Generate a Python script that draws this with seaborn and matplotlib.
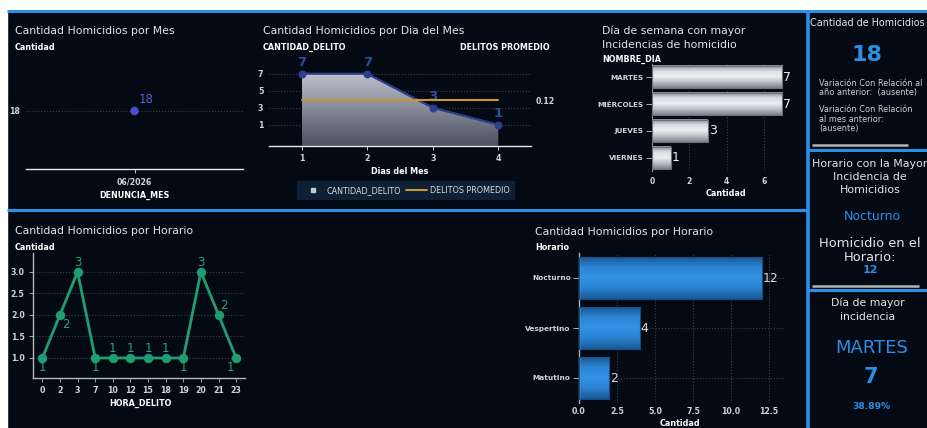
import numpy as np
import matplotlib
matplotlib.use("Agg")
import matplotlib.pyplot as plt
import seaborn as sns
from matplotlib.colors import LinearSegmentedColormap
from matplotlib.lines import Line2D
from matplotlib.patches import Rectangle

# -------------------- datos --------------------
meses = ["06/2026"]
cantidad_mes = [18]

dias_mes = [1, 2, 3, 4]
cantidad_dia = [7, 7, 3, 1]
delitos_promedio = 0.12

dias_semana = ["MARTES", "MIÉRCOLES", "JUEVES", "VIERNES"]
cantidad_semana = [7, 7, 3, 1]

horas = ["0", "2", "3", "7", "10", "12", "15", "18", "19", "20", "21", "23"]
cantidad_hora = [1, 2, 3, 1, 1, 1, 1, 1, 1, 3, 2, 1]

horarios = ["Nocturno", "Vespertino", "Matutino"]
cantidad_horario = [12, 4, 2]

total_homicidios = 18
horario_mayor = "Nocturno"
homicidios_horario = 12
dia_mayor = "MARTES"
homicidios_dia = 7
porcentaje_dia = 38.89

# -------------------- estilo --------------------
BG = "#040a13"
BLUE = "#2a8fe6"
TXT = "#e4e4e4"
TICK = "#d2d2d2"
GRID = "#3c424c"

sns.set_theme(style="dark", rc={"axes.facecolor": "none", "figure.facecolor": BG})
plt.rcParams["font.family"] = ["DejaVu Sans"]

W, H = 927, 428
fig = plt.figure(figsize=(W / 100, H / 100), dpi=100, facecolor=BG)


def pbox(x0, y0, x1, y1):
    return [x0 / W, 1 - y1 / H, (x1 - x0) / W, (y1 - y0) / H]


def ftext(x, y, s, **kw):
    kw.setdefault("va", "center")
    kw.setdefault("color", TXT)
    fig.text(x / W, 1 - y / H, s, **kw)


def fline(x0, y0, x1, y1, color=BLUE, lw=2.2):
    fig.add_artist(Line2D([x0 / W, x1 / W], [1 - y0 / H, 1 - y1 / H],
                          transform=fig.transFigure, color=color, lw=lw,
                          solid_capstyle="butt"))


def base_axes(ax):
    ax.set_facecolor("none")
    for s in ax.spines.values():
        s.set_visible(False)
    ax.set_xlabel("")
    ax.set_ylabel("")


def gradient_bars(ax, colors, edge):
    cmap = LinearSegmentedColormap.from_list("g", colors)
    grad = np.linspace(0, 1, 256).reshape(-1, 1)
    xl, yl = ax.get_xlim(), ax.get_ylim()
    for p in ax.patches:
        x0, y0, w, h = p.get_x(), p.get_y(), p.get_width(), p.get_height()
        ax.imshow(grad, extent=[x0, x0 + w, y0 + h, y0], aspect="auto",
                  cmap=cmap, zorder=2, interpolation="bicubic")
        p.set_facecolor("none")
        p.set_edgecolor(edge)
        p.set_linewidth(0.8)
        p.set_zorder(3)
    ax.set_xlim(xl)
    ax.set_ylim(yl)


# -------------------- marcos --------------------
fig.add_artist(Rectangle((0, 1 - 9.5 / H), 1, 9.5 / H, transform=fig.transFigure,
                         color="white", zorder=0))
fig.add_artist(Rectangle((0, 0), 7 / W, 1, transform=fig.transFigure,
                         color="white", zorder=0))
fline(7, 11, 927, 11)
fline(7, 210, 808, 210)
fline(807.5, 10, 807.5, 428, lw=2.6)
fline(808, 150, 927, 150)
fline(808, 290, 927, 290)

# -------------------- 1. por mes --------------------
ax1 = fig.add_axes(pbox(26, 53, 243, 169))
sns.scatterplot(x=meses, y=cantidad_mes, ax=ax1, color="#4a4ec8", s=38,
                edgecolor="none", zorder=3)
base_axes(ax1)
ax1.set_xlim(-0.5, 0.5)
ax1.set_ylim(17, 19)
ax1.set_yticks([18])
ax1.axhline(18, ls=":", color=GRID, lw=0.8, zorder=1)
ax1.spines["bottom"].set_visible(True)
ax1.spines["bottom"].set_color("#e8e8e8")
ax1.spines["bottom"].set_linewidth(1)
ax1.tick_params(axis="y", length=0, pad=4, labelsize=5.7, labelcolor=TICK)
ax1.tick_params(axis="x", length=3, width=0.6, color="#e8e8e8", pad=3,
                labelsize=5.7, labelcolor=TICK, bottom=True)
for lab in ax1.get_xticklabels() + ax1.get_yticklabels():
    lab.set_fontweight("bold")
for i, v in enumerate(cantidad_mes):
    ax1.annotate(str(v), (i, v), xytext=(3, 8), textcoords="offset points",
                 color="#5a5fd6", fontsize=8.5, ha="left", va="center")
ftext(15, 31, "Cantidad Homicidios por Mes", fontsize=7.8)
ftext(15, 47, "Cantidad", fontsize=5.8, fontweight="bold", color="white")
ftext(134, 195, "DENUNCIA_MES", fontsize=5.8, fontweight="bold", color="white",
      ha="center")

# -------------------- 2. por dia del mes --------------------
ax2 = fig.add_axes(pbox(269, 61, 531, 146))
base_axes(ax2)
ymin2 = -1.5
poly = ax2.fill_between(dias_mes, cantidad_dia, ymin2, color="none")
cmap_area = LinearSegmentedColormap.from_list("area", ["#4a5061", "#bfc2cc"])
grad = np.linspace(0, 1, 256).reshape(-1, 1)
im = ax2.imshow(grad, extent=[dias_mes[0], dias_mes[-1], ymin2, max(cantidad_dia)],
                origin="lower", aspect="auto", cmap=cmap_area, zorder=1)
im.set_clip_path(poly.get_paths()[0], ax2.transData)
sns.lineplot(x=dias_mes, y=cantidad_dia, ax=ax2, color="#2d3f8f", lw=1.6,
             marker="o", markersize=5, markeredgecolor="#2d3f8f", zorder=4)
base_axes(ax2)
ax2.set_xlim(0.5, 4.5)
ax2.set_ylim(ymin2, 8.5)
ax2.set_xticks(dias_mes)
ax2.set_yticks([1, 3, 5, 7])
ax2.grid(axis="y", ls=":", color=GRID, lw=0.8)
ax2.grid(axis="x", visible=False)
ax2.spines["bottom"].set_visible(True)
ax2.spines["bottom"].set_color("#e8e8e8")
ax2.spines["bottom"].set_linewidth(1)
ax2.tick_params(axis="y", length=0, pad=4, labelsize=5.7, labelcolor=TICK)
ax2.tick_params(axis="x", length=3, width=0.6, color="#e8e8e8", pad=3,
                labelsize=5.7, labelcolor=TICK, bottom=True)
for lab in ax2.get_xticklabels() + ax2.get_yticklabels():
    lab.set_fontweight("bold")
for x, v in zip(dias_mes, cantidad_dia):
    ax2.annotate(str(v), (x, v), xytext=(0, 8), textcoords="offset points",
                 color="#2d4c9e", fontsize=9.5, fontweight="bold",
                 ha="center", va="center", zorder=6)

ax2b = ax2.twinx()
sns.lineplot(x=dias_mes, y=[delitos_promedio] * len(dias_mes), ax=ax2b,
             color="#c9962c", lw=1.5, zorder=5)
base_axes(ax2b)
ax2b.set_ylim(delitos_promedio - 0.541 * 0.2, delitos_promedio + 0.459 * 0.2)
ax2b.set_yticks([delitos_promedio])
ax2b.set_yticklabels([f"{delitos_promedio:.2f}"])
ax2b.tick_params(axis="y", length=0, pad=3, labelsize=5.7, labelcolor=TICK,
                 right=True, labelright=True)
for lab in ax2b.get_yticklabels():
    lab.set_fontweight("bold")
ax2b.grid(False)

ftext(263, 31, "Cantidad Homicidios por Dia del Mes", fontsize=7.8)
ftext(263, 47, "CANTIDAD_DELITO", fontsize=5.8, fontweight="bold", color="white")
ftext(550, 47, "DELITOS PROMEDIO", fontsize=5.8, fontweight="bold", color="white",
      ha="right")
ftext(400, 172, "Dias del Mes", fontsize=5.8, fontweight="bold", color="white",
      ha="center")
handles = [Line2D([], [], marker="s", ls="none", color="#c4c7cf", markersize=3.5),
           Line2D([], [], color="#c9962c", lw=1.5)]
fig.legend(handles, ["CANTIDAD_DELITO", "DELITOS PROMEDIO"], loc="center",
           bbox_to_anchor=(406 / W, 1 - 190.5 / H), ncol=2, frameon=True,
           facecolor="#0d2035", edgecolor="none", framealpha=1, fancybox=False,
           fontsize=5.8, labelcolor="#d8d8d8", handlelength=2.6,
           columnspacing=0.6, borderpad=0.6, handletextpad=0.4,
           borderaxespad=0)

# -------------------- 3. dia de semana --------------------
ax3 = fig.add_axes(pbox(652, 64, 788, 171))
sns.barplot(x=cantidad_semana, y=dias_semana, ax=ax3, orient="y", width=0.83,
            color="#c0c0c0")
base_axes(ax3)
ax3.set_xlim(0, 7.3)
ax3.set_ylim(len(dias_semana) - 0.5, -0.5)
ax3.set_axisbelow(True)
gradient_bars(ax3, ["#80848e", "#d9dbe0", "#eceef2", "#b9bcc4", "#7c8089"],
              "#6d717a")
ax3.set_xticks([0, 2, 4, 6])
ax3.grid(axis="x", ls=":", color=GRID, lw=0.8)
ax3.grid(axis="y", visible=False)
ax3.spines["left"].set_visible(True)
ax3.spines["left"].set_color("#8a8e96")
ax3.spines["left"].set_linewidth(0.8)
ax3.tick_params(axis="x", length=0, pad=4, labelsize=5.5, labelcolor=TICK)
ax3.tick_params(axis="y", length=4, width=0.6, color="#c8c8c8", pad=2,
                labelsize=5.2, labelcolor=TICK, left=True)
for lab in ax3.get_xticklabels() + ax3.get_yticklabels():
    lab.set_fontweight("bold")
for i, v in enumerate(cantidad_semana):
    ax3.text(v + 0.05, i, str(v), color="#ececec", fontsize=9, ha="left",
             va="center", zorder=6)
ftext(602, 31, "Día de semana con mayor", fontsize=7.8)
ftext(602, 44.5, "Incidencias de homicidio", fontsize=7.8)
ftext(602, 59, "NOMBRE_DIA", fontsize=5.8, fontweight="bold", color="white")
ftext(726, 193, "Cantidad", fontsize=5.8, fontweight="bold", color="white",
      ha="center")

# -------------------- 4. por hora --------------------
ax5 = fig.add_axes(pbox(33, 253, 245, 378))
sns.lineplot(x=horas, y=cantidad_hora, ax=ax5, sort=False, color="#1f9e74",
             lw=2, marker="o", markersize=6, markeredgecolor="#1f9e74", zorder=3)
base_axes(ax5)
ax5.set_xlim(-0.53, len(horas) - 0.5)
ax5.set_ylim(0.535, 3.44)
ax5.set_yticks([1.0, 1.5, 2.0, 2.5, 3.0])
ax5.set_yticklabels([f"{t:.1f}" for t in [1.0, 1.5, 2.0, 2.5, 3.0]])
ax5.grid(axis="y", ls=":", color=GRID, lw=0.8)
ax5.grid(axis="x", visible=False)
for s in ["left", "bottom"]:
    ax5.spines[s].set_visible(True)
    ax5.spines[s].set_color("#b8b8b8")
    ax5.spines[s].set_linewidth(1)
ax5.tick_params(axis="both", length=3, width=0.6, color="#b8b8b8", pad=3,
                labelsize=5.7, labelcolor=TICK, left=True, bottom=True)
for lab in ax5.get_xticklabels() + ax5.get_yticklabels():
    lab.set_fontweight("bold")
# posiciones de las etiquetas (puntos de desplazamiento)
offsets = [(0, -7), (4, -7), (0, 7), (0, -7), (0, 7), (0, 7), (0, 7), (0, 7),
           (0, -7), (0, 7), (4, 7), (-4, -7)]
for i, (v, off) in enumerate(zip(cantidad_hora, offsets)):
    ax5.annotate(str(v), (i, v), xytext=off, textcoords="offset points",
                 color="#25a678", fontsize=8.5, ha="center", va="center")
ftext(15, 231, "Cantidad Homicidios por Horario", fontsize=7.8)
ftext(15, 247, "Cantidad", fontsize=5.8, fontweight="bold", color="white")
ftext(140, 403.5, "HORA_DELITO", fontsize=5.8, fontweight="bold", color="white",
      ha="center")

# -------------------- 5. por horario --------------------
ax6 = fig.add_axes(pbox(579, 253, 786, 403))
sns.barplot(x=cantidad_horario, y=horarios, ax=ax6, orient="y", width=0.83,
            color=BLUE)
base_axes(ax6)
ax6.set_xlim(0, 13.6)
ax6.set_ylim(len(horarios) - 0.5, -0.5)
ax6.set_axisbelow(True)
gradient_bars(ax6, ["#1a5895", "#2c86d6", "#3392e6", "#2a80cf", "#1a5895"],
              "#174e85")
ax6.set_xticks([0, 2.5, 5, 7.5, 10, 12.5])
ax6.set_xticklabels([f"{t:.1f}" for t in [0, 2.5, 5, 7.5, 10, 12.5]])
ax6.grid(axis="both", ls=":", color=GRID, lw=0.8)
ax6.spines["left"].set_visible(True)
ax6.spines["left"].set_color("#b0b0b0")
ax6.spines["left"].set_linewidth(1)
ax6.tick_params(axis="x", length=0, pad=3, labelsize=5.7, labelcolor=TICK)
ax6.tick_params(axis="y", length=4, width=0.6, color="#c8c8c8", pad=2,
                labelsize=5.3, labelcolor=TICK, left=True)
for lab in ax6.get_xticklabels() + ax6.get_yticklabels():
    lab.set_fontweight("bold")
for i, v in enumerate(cantidad_horario):
    ax6.text(v + 0.05, i, str(v), color="#d8d8d8", fontsize=9, ha="left",
             va="center", zorder=6)
ftext(535, 232, "Cantidad Homicidios por Horario", fontsize=7.8)
ftext(535, 247, "Horario", fontsize=5.8, fontweight="bold", color="white")
ftext(680, 424, "Cantidad", fontsize=5.8, fontweight="bold", color="white",
      ha="center")

# -------------------- 6. indicadores --------------------
ftext(810, 23, "Cantidad de Homicidios", fontsize=6.9)
ftext(867, 55, str(total_homicidios), fontsize=16, fontweight="bold",
      color=BLUE, ha="center")
ftext(819, 83, "Variación Con Relación al", fontsize=5.9, color="#d0d0d0")
ftext(819, 92, "año anterior:  (ausente)", fontsize=5.9, color="#d0d0d0")
ftext(819, 110, "Variación Con Relación", fontsize=5.9, color="#d0d0d0")
ftext(819, 119, "al mes anterior:", fontsize=5.9, color="#d0d0d0")
ftext(819, 128, "(ausente)", fontsize=5.9, color="#d0d0d0")
fline(812, 145, 908, 145, color="#b4b4b4", lw=1.8)

ftext(870, 164, "Horario con la Mayor", fontsize=7.9, ha="center")
ftext(870, 177, "Incidencia de", fontsize=7.9, ha="center")
ftext(870, 189.5, "Homicidios", fontsize=7.9, ha="center")
ftext(872, 216.5, horario_mayor, fontsize=9, color=BLUE, ha="center")
ftext(870, 243.5, "Homicidio en el", fontsize=9.4, ha="center")
ftext(870, 257.5, "Horario:", fontsize=9.4, ha="center")
ftext(870, 270, str(homicidios_horario), fontsize=8, fontweight="bold",
      color=BLUE, ha="center")
fline(812, 285.5, 919, 285.5, color="#b4b4b4", lw=1.8)

ftext(868, 303, "Día de mayor", fontsize=7.8, ha="center")
ftext(868, 317, "incidencia", fontsize=7.8, ha="center")
ftext(872, 348, dia_mayor, fontsize=13, color=BLUE, ha="center")
ftext(871, 377, str(homicidios_dia), fontsize=15, fontweight="bold",
      color=BLUE, ha="center")
ftext(871, 406.5, f"{porcentaje_dia:.2f}%", fontsize=6.6, fontweight="bold",
      color=BLUE, ha="center")

fig.savefig("out.png", dpi=100, facecolor=BG)
